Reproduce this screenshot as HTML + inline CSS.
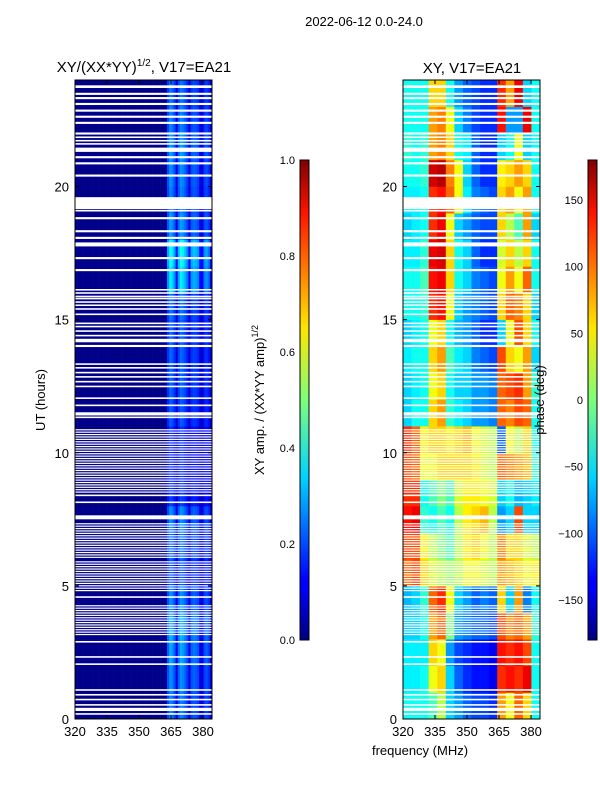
<!DOCTYPE html>
<html><head><meta charset="utf-8"><style>
html,body{margin:0;padding:0;background:#fff;}
svg{display:block;font-family:"Liberation Sans",sans-serif;}
</style></head><body>
<svg id="fig" width="600" height="800" viewBox="0 0 600 800">
<defs>
<linearGradient id="jet" x1="0" y1="1" x2="0" y2="0">
<stop offset="0" stop-color="#00007f"/><stop offset="0.11" stop-color="#0000ff"/><stop offset="0.125" stop-color="#0000ff"/>
<stop offset="0.34" stop-color="#00d4ff"/><stop offset="0.5" stop-color="#7cff79"/><stop offset="0.65" stop-color="#ffe600"/>
<stop offset="0.89" stop-color="#ff1300"/><stop offset="1" stop-color="#7f0000"/>
</linearGradient>
</defs>
<text x="364" y="26" font-size="13" text-anchor="middle">2022-06-12 0.0-24.0</text>
<text x="144" y="72" font-size="15" text-anchor="middle">XY/(XX*YY)<tspan font-size="10" dy="-6">1/2</tspan><tspan dy="6">, V17=EA21</tspan></text>
<text x="472" y="73" font-size="15" text-anchor="middle">XY, V17=EA21</text>
<g id="left"></g>
<g id="right"></g>
<g id="axes"></g>
<text transform="translate(45,400) rotate(-90)" font-size="13" text-anchor="middle">UT (hours)</text>
<text x="420" y="755" font-size="13" text-anchor="middle">frequency (MHz)</text>
<rect x="300" y="160" width="9" height="480" fill="url(#jet)" stroke="#000" stroke-width="1"/>
<rect x="588" y="160" width="9" height="480" fill="url(#jet)" stroke="#000" stroke-width="1"/>
<text transform="translate(264,400) rotate(-90)" font-size="13" text-anchor="middle">XY amp. / (XX*YY amp)<tspan font-size="9" dy="-6">1/2</tspan></text>
<text transform="translate(544,400) rotate(-90)" font-size="13" text-anchor="middle">phase (deg)</text>
</svg>
<script>
const flags=[[23.7,23.8],[23.44,23.52],[23.28,23.36],[23.06,23.14],[22.81,22.89],[22.58,22.66],[22.35,22.43],[21.95,22.03],[21.82,21.88],[21.69,21.75],[21.57,21.63],[21.3,21.46],[21.06,21.14],[20.83,20.91],[20.37,20.45],[19.15,19.6],[19.06,19.12],[18.77,18.85],[18.28,18.36],[18.03,18.11],[17.75,17.9],[17.27,17.35],[16.82,16.9],[16.09,16.15],[15.97,16.03],[15.84,15.9],[15.76,15.82],[15.63,15.69],[15.51,15.57],[15.37,15.43],[15.17,15.23],[14.83,14.89],[14.71,14.77],[14.54,14.6],[14.37,14.43],[14.15,14.28],[13.97,14.05],[13.3,13.36],[13.16,13.22],[12.98,13.04],[12.82,12.88],[12.64,12.7],[12.46,12.52],[12.02,12.08],[11.75,11.81],[11.4,11.52],[11.3,11.36],[8.37,8.43],[8.11,8.17],[7.5,7.65],[4.55,4.61],[2.87,2.93],[2.3,2.36],[2.03,2.09],[1.06,1.12],[0.88,0.94],[0.7,0.76],[0.5,0.56],[0.3,0.42],[0.16,0.22]];
const stripeBands=[[8.5,10.9],[6.05,7.35],[4.8,5.9],[3.15,4.3]];
const ampCols=[0.01,0.01,0.01,0.01,0.01,0.01,0.01,0.01,0.01,0.01,0.01,0.01,0.01,0.01,0.01,0.01,0.01,0.01,0.01,0.01,0.01,0.01,0.01,0.01,0.01,0.01,0.01,0.01,0.01,0.01,0.01,0.01,0.01,0.01,0.01,0.01,0.01,0.01,0.01,0.01,0.01,0.01,0.03,0.2,0.27,0.25,0.2,0.1,0.22,0.27,0.25,0.22,0.18,0.09,0.2,0.22,0.21,0.19,0.1,0.09,0.18,0.2,0.17,0.08];
const ampRows=[0.95,1.0,1.1,1.15,1.0,0.8,0.9,1.0,0.7,0.65,0.65,0.8,0.85,0.85,0.85,0.9,1.35,1.45,1.05,0.95,1.0,1.05,0.95,0.9];
const phaseGrid=[
[-40,-40,-40,-20,20,-60,-80,-100,-110,-110,-120,80,40,100,60,-40],
[-50,-50,-40,40,60,-60,-100,-120,-130,-130,-140,120,130,120,140,-40],
[-50,-50,-50,60,40,-80,-110,-120,-130,-130,-140,130,120,130,110,-40],
[-60,-60,-40,80,100,0,-80,-90,-100,-100,-110,110,90,100,80,-30],
[-70,-60,-30,100,120,40,-60,-80,-100,-90,-100,60,-60,80,-90,-40],
[100,110,60,30,20,10,20,40,40,30,20,80,70,60,40,50],
[110,110,50,20,0,-20,20,50,60,40,20,90,60,60,30,20],
[130,140,-30,-40,-20,-40,20,50,60,70,20,-80,-60,110,-60,-60],
[120,120,-40,-20,0,-20,30,50,50,40,30,-60,-40,-70,-60,-50],
[110,100,40,40,60,60,60,60,50,30,20,100,90,80,70,-30],
[120,100,50,60,60,50,60,70,40,30,20,-100,40,20,60,-40],
[-60,-40,-40,60,80,-30,-50,-60,-80,-80,-90,100,90,110,100,-40],
[-60,-50,-40,40,60,-40,-60,-60,-80,-80,-90,100,110,120,80,-30],
[-50,-40,-40,60,80,-20,-50,-60,-90,-100,-110,110,60,40,80,-60],
[-60,-50,-40,40,60,-40,-70,-80,-100,-120,-120,-60,40,110,60,-40],
[-40,-40,-30,120,130,40,-60,-80,-90,-100,-110,60,100,90,60,-60],
[-40,-40,-20,130,140,60,-40,-60,-90,-100,-110,40,80,40,100,-40],
[-50,-50,-30,140,150,60,-40,-60,-100,-120,-120,30,60,20,60,-40],
[-60,-50,-40,120,140,40,-60,-80,-100,-110,-110,60,20,-20,80,-60],
[-50,-50,-40,120,130,100,40,-50,-90,-100,-110,60,80,40,80,-40],
[-40,-40,-30,150,160,90,40,-60,-100,-120,-120,50,60,80,60,-40],
[-30,-40,-30,80,90,60,-40,-50,-100,-120,-120,-60,-40,40,-60,-40],
[-40,-40,-40,80,90,40,-60,-90,-110,-120,-120,130,-80,-80,140,-40],
[-40,-40,-40,60,60,-40,-80,-100,-110,-120,-120,120,80,140,-60,-40]];
const xTicks=[320,335,350,365,380];
const yTicks=[0,5,10,15,20];
const ampTicks=[0.0,0.2,0.4,0.6,0.8,1.0];
const phaseTicks=[-150,-100,-50,0,50,100,150];

const NS='http://www.w3.org/2000/svg';
const panels={left:75,right:403};
const PW=137,Y0=719,Y1=80;
const fmin=320,fmax=384.2;
function xs(f,x0){return x0+(f-fmin)/(fmax-fmin)*PW;}
function ys(h){return Y0-(h/24)*(Y0-Y1);}
function jet(v){v=Math.max(0,Math.min(1,v));
 const r=Math.min(4*v-1.5,-4*v+4.5),g=Math.min(4*v-0.5,-4*v+3.5),b=Math.min(4*v+0.5,-4*v+2.5);
 const c=x=>Math.round(255*Math.max(0,Math.min(1,x)));return `rgb(${c(r)},${c(g)},${c(b)})`;}
function rect(p,x,y,w,h,fill,name){const r=document.createElementNS(NS,'rect');
 r.setAttribute('x',x);r.setAttribute('y',y);r.setAttribute('width',w);r.setAttribute('height',h);r.setAttribute('fill',fill);
 
 
 p.appendChild(r);return r;}
const L=document.getElementById('left'),R=document.getElementById('right');
const df=(fmax-fmin)/ampCols.length;
for(let h=0;h<ampRows.length;h++){for(let c=0;c<ampCols.length;c++){
 const x=xs(fmin+c*df,panels.left),x2=xs(fmin+(c+1)*df,panels.left);
 rect(L,x,ys(h+1),x2-x+0.3,ys(h)-ys(h+1)+0.3,jet(ampCols[c]*ampRows[h]),'amp-cell');}}
const pf=(fmax-fmin)/phaseGrid[0].length;
for(let h=0;h<phaseGrid.length;h++){for(let c=0;c<phaseGrid[h].length;c++){
 const x=xs(fmin+c*pf,panels.right),x2=xs(fmin+(c+1)*pf,panels.right);
 rect(R,x,ys(h+1),x2-x+0.3,ys(h)-ys(h+1)+0.3,jet((phaseGrid[h][c]+180)/360),'phase-cell');}}
for(const g of [L,R]){const x0=g===L?panels.left:panels.right;
 for(const f of flags){rect(g,x0,ys(f[1]),PW,Math.max(1.5,ys(f[0])-ys(f[1])),'#fff','flagged-interval');}
 for(const b of stripeBands){for(let h=b[0];h<b[1];h+=0.09){rect(g,x0,ys(h+0.045),PW,1.2,'#fff','flagged-stripe');}}}
const A=document.getElementById('axes');
function txt(x,y,s,anchor,size,name){const t=document.createElementNS(NS,'text');t.setAttribute('x',x);t.setAttribute('y',y);
 t.setAttribute('font-size',size);t.setAttribute('text-anchor',anchor);t.textContent=s;
 
 
 A.appendChild(t);}
function line(x1,y1,x2,y2,name){const l=document.createElementNS(NS,'line');l.setAttribute('x1',x1);l.setAttribute('y1',y1);l.setAttribute('x2',x2);l.setAttribute('y2',y2);l.setAttribute('stroke','#000');
 
 
 A.appendChild(l);}
for(const k in panels){const x0=panels[k];
 const fr=document.createElementNS(NS,'rect');fr.setAttribute('x',x0);fr.setAttribute('y',Y1);fr.setAttribute('width',PW);fr.setAttribute('height',Y0-Y1);
 fr.setAttribute('fill','none');fr.setAttribute('stroke','#000');
 
 
 A.appendChild(fr);
 for(const t of xTicks){const x=xs(t,x0);line(x,Y0,x,Y0-4,'x-tick');line(x,Y1,x,Y1+4,'x-tick');txt(x,736,String(t),'middle',13,'x-tick-label');}
 for(const t of yTicks){const y=ys(t);line(x0,y,x0+4,y,'y-tick');line(x0+PW,y,x0+PW-4,y,'y-tick');txt(x0-6,y+5,String(t),'end',13,'y-tick-label');}}
for(const t of ampTicks){const y=640-t*480;line(300,y,309,y,'colorbar-tick');txt(295,y+4,t.toFixed(1),'end',11,'amp-colorbar-tick-label');}
for(const t of phaseTicks){const y=640-(t+180)/360*480;line(588,y,597,y,'colorbar-tick');txt(583,y+4,t<0?'\u2212'+Math.abs(t):String(t),'end',11,'phase-colorbar-tick-label');}
</script>
</body></html>
